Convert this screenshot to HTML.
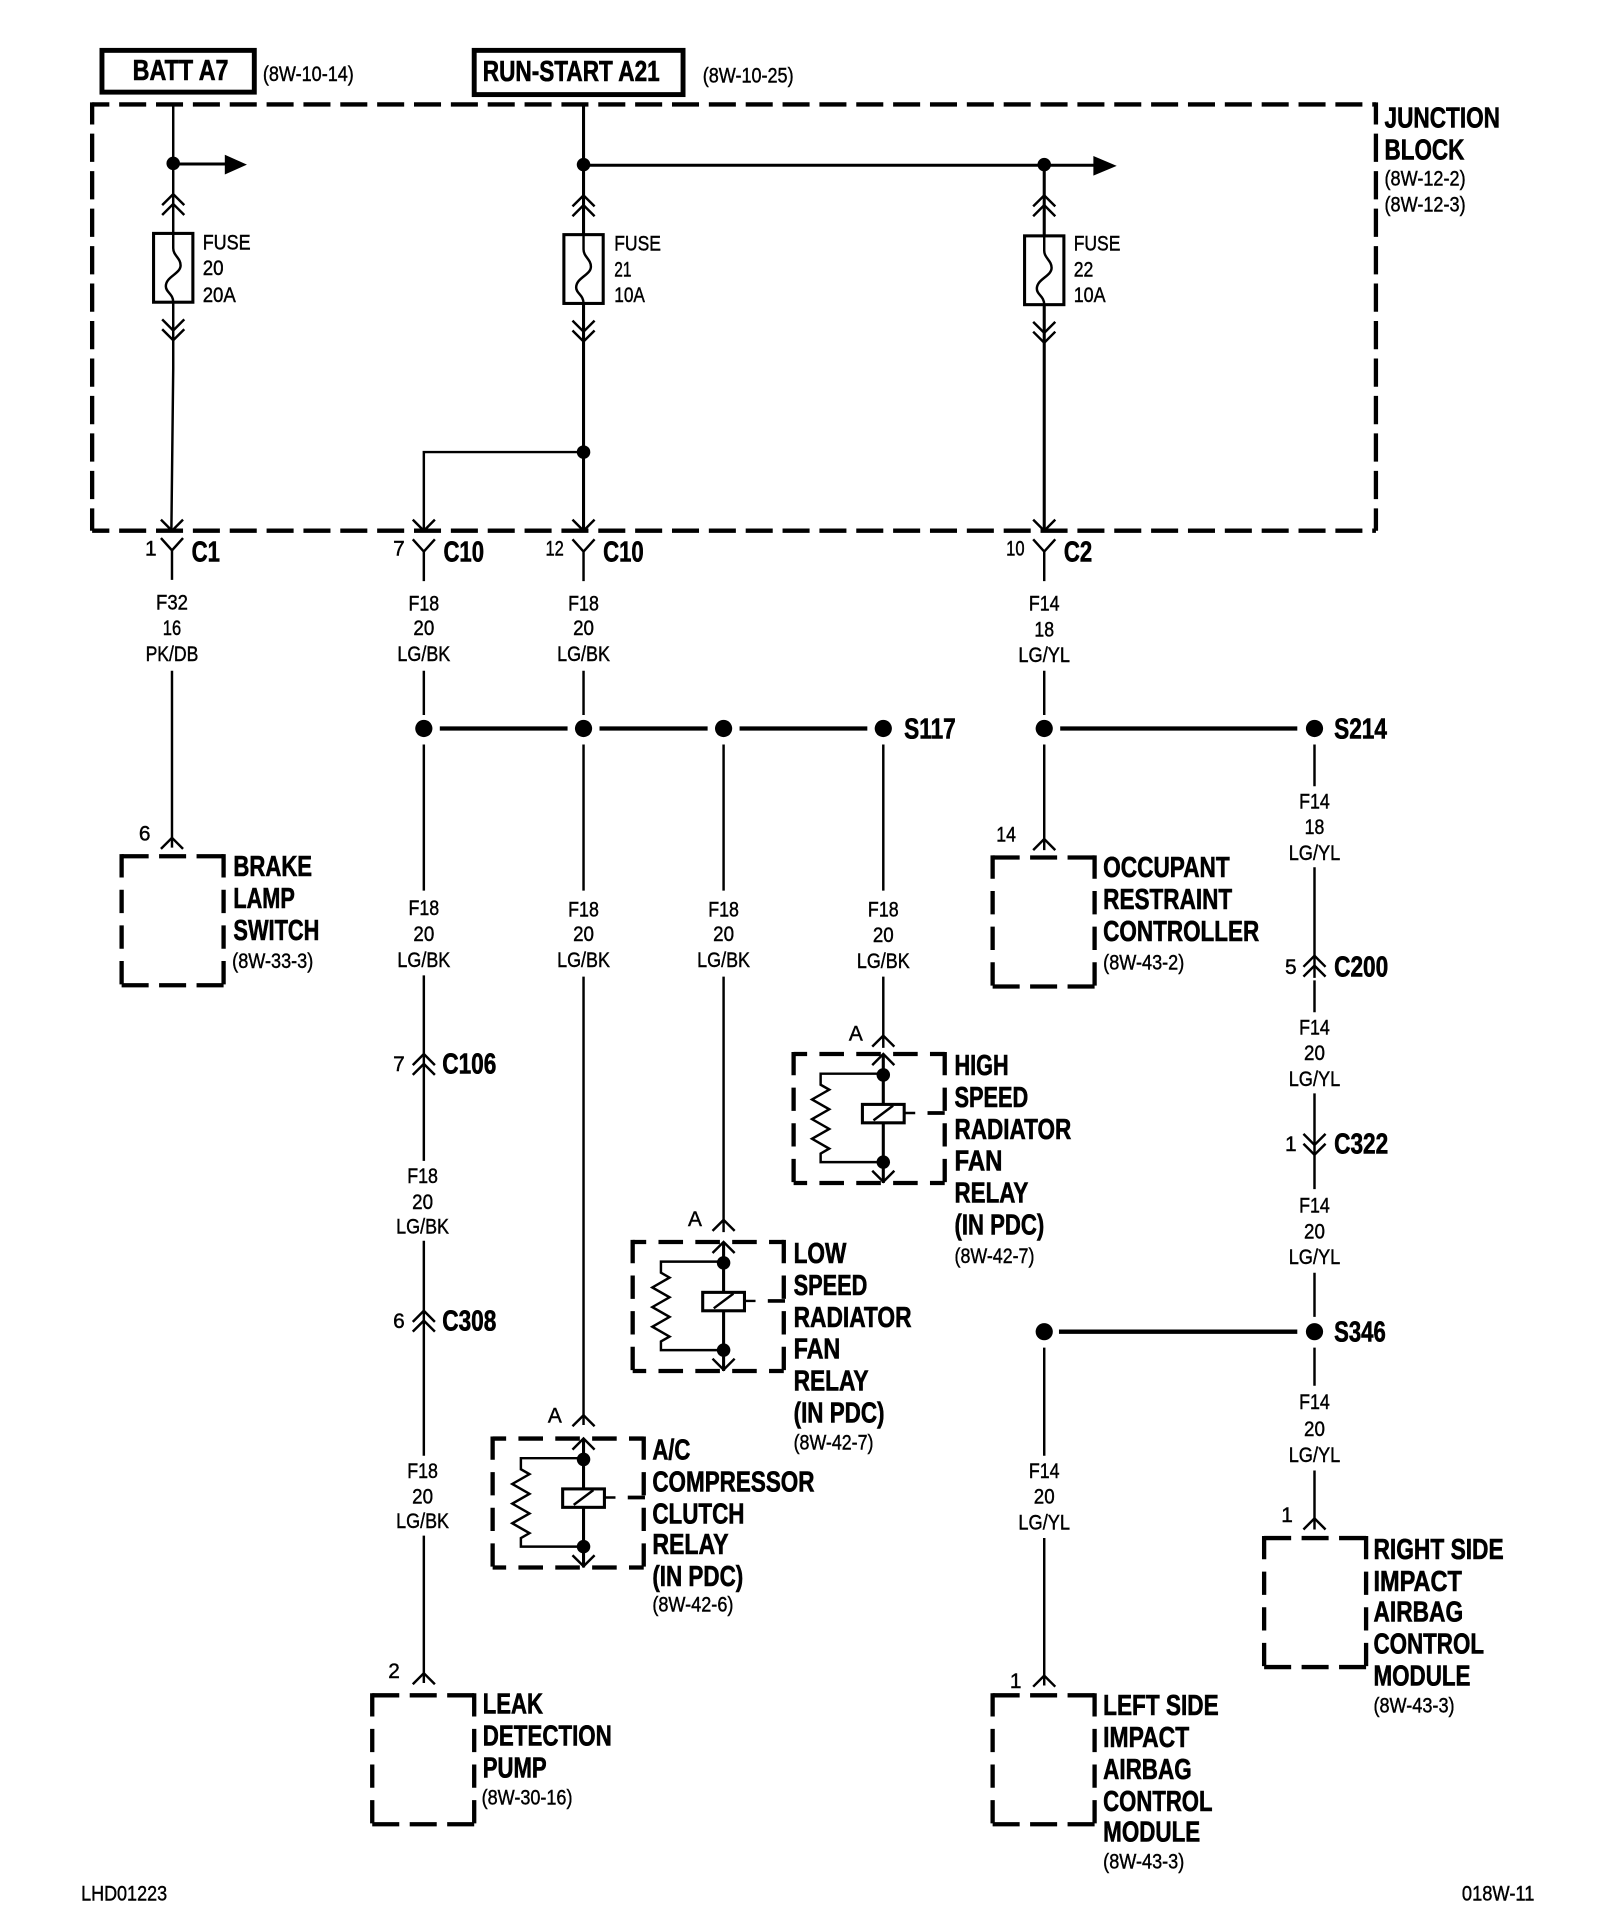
<!DOCTYPE html>
<html><head><meta charset="utf-8"><style>
html,body{margin:0;padding:0;background:#fff}
svg{display:block}
text{font-family:"Liberation Sans",sans-serif;fill:#000}
.b{font-size:23px;font-weight:bold;stroke:#000;stroke-width:.5px}
.s{font-size:17px;stroke:#000;stroke-width:.35px}
.m text{text-anchor:middle}
.w{fill:none;stroke:#000;stroke-width:2}
.t{fill:none;stroke:#000;stroke-width:3.5}
</style></head><body>
<svg width="1600" height="1926" viewBox="0 0 1302.4 1567.8" preserveAspectRatio="none" xmlns="http://www.w3.org/2000/svg">
<defs>
<path id="u" d="M-9 9L0 0L9 9" fill="none" stroke="#000" stroke-width="2"/>
<path id="n" d="M-9 -9L0 0L9 -9" fill="none" stroke="#000" stroke-width="2"/>
<circle id="o" r="7" fill="#000"/>
<circle id="p" r="5.5" fill="#000"/>
<path id="y" d="M-9 -10L0 0L9 -10M0 0V24" fill="none" stroke="#000" stroke-width="2"/>
<path id="f" d="M0 0V12C0 18 6 20 6 26C6 33 -6 35 -6 43C-6 48 0 49 0 56" fill="none" stroke="#000" stroke-width="2"/>
<g id="M" fill="none" stroke="#000" stroke-width="3.500">
<path stroke-dasharray="22 8.500" d="M0 0H83M0 105H83"/>
<path stroke-dasharray="19 10" d="M0 -1.700V105M83 -1.700V105"/>
</g>
<g id="R" fill="none" stroke="#000" stroke-width="3.500">
<path stroke-dasharray="20 10" stroke-dashoffset="9" d="M0 0H123M0 105H123"/>
<path stroke-dasharray="19 10" d="M0 -1.700V105M123 -1.700V105"/>
</g>
<g id="r">
<path d="M0 -17H-51V-8L-44 -4L-58 4L-44 12L-58 20L-44 28L-58 36L-44 44L-51 48V55H0" fill="none" stroke="#000" stroke-width="2"/>
<path d="M0 -32V72" fill="none" stroke="#000" stroke-width="2.500"/>
<rect x="-17" y="8" width="34" height="15" fill="#fff" stroke="#000" stroke-width="2.500"/>
<path d="M-8 21L8 9M17 15H26" fill="none" stroke="#000" stroke-width="2"/>
<path d="M36 15H50" fill="none" stroke="#000" stroke-width="3"/>
<use href="#p" y="-16"/><use href="#p" y="55"/>
<use href="#u" y="-33"/><use href="#n" y="71"/>
</g>
</defs>

<!-- header boxes -->
<rect x="83" y="41" width="124" height="34" fill="none" stroke="#000" stroke-width="4"/>
<rect x="386" y="41" width="170" height="36" fill="none" stroke="#000" stroke-width="4"/>
<!-- junction block -->
<g fill="none" stroke="#000" stroke-width="3.500">
<path stroke-dasharray="22 8" stroke-dashoffset="8" d="M75 85H1120M75 432H1120"/>
<path stroke-dasharray="23 7.500" stroke-dashoffset="5" d="M75 83.300V432M1120 83.300V432"/>
</g>

<!-- wires in junction -->
<path class="w" d="M141 85V300L139.500 432"/>
<path class="w" style="stroke-width:2.500" d="M475 85V432M850 134V432"/>
<path class="w" d="M475 368H345V432"/>
<path class="t" style="stroke-width:2.500" d="M141 133.500H185M475 134.500H893"/>
<path d="M183 126L201 134L183 142Z"/><path d="M890 127L909 135L890 143Z"/>
<use href="#p" x="141" y="133"/><use href="#p" x="475" y="134"/><use href="#p" x="850" y="134"/><use href="#p" x="475" y="368"/>
<!-- fuses -->
<g>
<rect x="125" y="190" width="32" height="56" fill="#fff" stroke="#000" stroke-width="2.500"/><use href="#f" x="141" y="190"/>
<rect x="459" y="191" width="32" height="56" fill="#fff" stroke="#000" stroke-width="2.500"/><use href="#f" x="475" y="191"/>
<rect x="834" y="192" width="32" height="56" fill="#fff" stroke="#000" stroke-width="2.500"/><use href="#f" x="850" y="192"/>
</g>
<use href="#u" x="141" y="158"/><use href="#u" x="141" y="166"/><use href="#n" x="141" y="269"/><use href="#n" x="141" y="277"/>
<use href="#u" x="475" y="159"/><use href="#u" x="475" y="167"/><use href="#n" x="475" y="270"/><use href="#n" x="475" y="278"/>
<use href="#u" x="850" y="159"/><use href="#u" x="850" y="167"/><use href="#n" x="850" y="271"/><use href="#n" x="850" y="279"/>
<use href="#n" x="140" y="432"/><use href="#n" x="345" y="432"/><use href="#n" x="475" y="432"/><use href="#n" x="850" y="432"/>
<!-- Y connectors -->
<use href="#y" x="140" y="448"/><use href="#y" x="345" y="449"/><use href="#y" x="475" y="449"/><use href="#y" x="850" y="449"/>

<!-- vertical wires -->
<path class="w" d="M140 546V690"/>
<path class="w" d="M345 546V582M345 606V725M345 794V875M345 858V945M345 1010V1085M345 1067V1185M345 1250V1370"/>
<path class="w" d="M475 546V582M475 606V725M475 795V1160"/>
<path class="w" d="M589 606V725M589 795V1003"/>
<path class="w" d="M719 606V725M719 795V853"/>
<path class="w" d="M850 546V582M850 606V692"/>
<path class="w" d="M1070 606V640M1070 706V796M1070 798V824M1070 890V942M1070 942V968M1070 1036V1072M1070 1097V1128M1070 1197V1245"/>
<path class="w" d="M850 1097V1185M850 1252V1372"/>
<!-- splice bars -->
<path class="t" d="M358 593H462M488 593H576M602 593H706M863 593H1056M862 1084H1056"/>
<use href="#o" x="345" y="593"/><use href="#o" x="475" y="593"/><use href="#o" x="589" y="593"/><use href="#o" x="719" y="593"/><use href="#o" x="850" y="593"/><use href="#o" x="1070" y="593"/><use href="#o" x="1070" y="1084"/><use href="#o" x="850" y="1084"/>

<!-- inline connectors -->
<use href="#u" x="345" y="858"/><use href="#u" x="345" y="866"/>
<use href="#u" x="345" y="1067"/><use href="#u" x="345" y="1075"/>
<use href="#u" x="1070" y="778"/><use href="#u" x="1070" y="786"/>
<use href="#n" x="1070" y="932"/><use href="#n" x="1070" y="940"/>

<!-- connector tops -->
<use href="#u" x="140" y="682"/><use href="#u" x="850" y="683"/><use href="#u" x="345" y="1362"/><use href="#u" x="850" y="1364"/><use href="#u" x="1070" y="1236"/>
<use href="#u" x="475" y="1152"/><use href="#u" x="589" y="993"/><use href="#u" x="719" y="843"/>

<!-- component boxes -->
<use href="#M" x="99" y="697"/>
<use href="#M" x="808" y="698"/>
<use href="#M" x="303" y="1380"/>
<use href="#M" x="808" y="1380"/>
<use href="#M" x="1029" y="1252"/>
<use href="#R" x="646" y="858"/>
<use href="#R" x="515" y="1011"/>
<use href="#R" x="401" y="1171"/>
<use href="#r" x="719" y="891"/>
<use href="#r" x="589" y="1044"/>
<use href="#r" x="475" y="1204"/>

<!-- bold labels -->
<g class="b">
<text x="108" y="65" textLength="78" lengthAdjust="spacingAndGlyphs">BATT A7</text>
<text x="393" y="66" textLength="144" lengthAdjust="spacingAndGlyphs">RUN-START A21</text>
<text x="1127" y="104" textLength="94" lengthAdjust="spacingAndGlyphs">JUNCTION</text>
<text x="1127" y="130" textLength="65" lengthAdjust="spacingAndGlyphs">BLOCK</text>
<text x="156" y="457" textLength="23" lengthAdjust="spacingAndGlyphs">C1</text>
<text x="361" y="457" textLength="33" lengthAdjust="spacingAndGlyphs">C10</text>
<text x="491" y="457" textLength="33" lengthAdjust="spacingAndGlyphs">C10</text>
<text x="866" y="457" textLength="23" lengthAdjust="spacingAndGlyphs">C2</text>
<text x="736" y="601" textLength="42" lengthAdjust="spacingAndGlyphs">S117</text>
<text x="1086" y="601" textLength="43" lengthAdjust="spacingAndGlyphs">S214</text>
<text x="1086" y="795" textLength="44" lengthAdjust="spacingAndGlyphs">C200</text>
<text x="1086" y="939" textLength="44" lengthAdjust="spacingAndGlyphs">C322</text>
<text x="1086" y="1092" textLength="42" lengthAdjust="spacingAndGlyphs">S346</text>
<text x="360" y="874" textLength="44" lengthAdjust="spacingAndGlyphs">C106</text>
<text x="360" y="1083" textLength="44" lengthAdjust="spacingAndGlyphs">C308</text>

<text x="190" y="713" textLength="64" lengthAdjust="spacingAndGlyphs">BRAKE</text>
<text x="190" y="739" textLength="50" lengthAdjust="spacingAndGlyphs">LAMP</text>
<text x="190" y="765" textLength="70" lengthAdjust="spacingAndGlyphs">SWITCH</text>

<text x="898" y="714" textLength="103" lengthAdjust="spacingAndGlyphs">OCCUPANT</text>
<text x="898" y="740" textLength="105" lengthAdjust="spacingAndGlyphs">RESTRAINT</text>
<text x="898" y="766" textLength="127" lengthAdjust="spacingAndGlyphs">CONTROLLER</text>

<text x="777" y="875" textLength="44" lengthAdjust="spacingAndGlyphs">HIGH</text>
<text x="777" y="901" textLength="60" lengthAdjust="spacingAndGlyphs">SPEED</text>
<text x="777" y="927" textLength="95" lengthAdjust="spacingAndGlyphs">RADIATOR</text>
<text x="777" y="953" textLength="39" lengthAdjust="spacingAndGlyphs">FAN</text>
<text x="777" y="979" textLength="60" lengthAdjust="spacingAndGlyphs">RELAY</text>
<text x="777" y="1005" textLength="73" lengthAdjust="spacingAndGlyphs">(IN PDC)</text>

<text x="646" y="1028" textLength="43" lengthAdjust="spacingAndGlyphs">LOW</text>
<text x="646" y="1054" textLength="60" lengthAdjust="spacingAndGlyphs">SPEED</text>
<text x="646" y="1080" textLength="96" lengthAdjust="spacingAndGlyphs">RADIATOR</text>
<text x="646" y="1106" textLength="38" lengthAdjust="spacingAndGlyphs">FAN</text>
<text x="646" y="1132" textLength="61" lengthAdjust="spacingAndGlyphs">RELAY</text>
<text x="646" y="1158" textLength="74" lengthAdjust="spacingAndGlyphs">(IN PDC)</text>

<text x="531" y="1188" textLength="31" lengthAdjust="spacingAndGlyphs">A/C</text>
<text x="531" y="1214" textLength="132" lengthAdjust="spacingAndGlyphs">COMPRESSOR</text>
<text x="531" y="1240" textLength="75" lengthAdjust="spacingAndGlyphs">CLUTCH</text>
<text x="531" y="1265" textLength="62" lengthAdjust="spacingAndGlyphs">RELAY</text>
<text x="531" y="1291" textLength="74" lengthAdjust="spacingAndGlyphs">(IN PDC)</text>

<text x="393" y="1395" textLength="49" lengthAdjust="spacingAndGlyphs">LEAK</text>
<text x="393" y="1421" textLength="105" lengthAdjust="spacingAndGlyphs">DETECTION</text>
<text x="393" y="1447" textLength="52" lengthAdjust="spacingAndGlyphs">PUMP</text>

<text x="898" y="1396" textLength="94" lengthAdjust="spacingAndGlyphs">LEFT SIDE</text>
<text x="898" y="1422" textLength="70" lengthAdjust="spacingAndGlyphs">IMPACT</text>
<text x="898" y="1448" textLength="72" lengthAdjust="spacingAndGlyphs">AIRBAG</text>
<text x="898" y="1474" textLength="89" lengthAdjust="spacingAndGlyphs">CONTROL</text>
<text x="898" y="1499" textLength="79" lengthAdjust="spacingAndGlyphs">MODULE</text>

<text x="1118" y="1269" textLength="106" lengthAdjust="spacingAndGlyphs">RIGHT SIDE</text>
<text x="1118" y="1295" textLength="72" lengthAdjust="spacingAndGlyphs">IMPACT</text>
<text x="1118" y="1320" textLength="73" lengthAdjust="spacingAndGlyphs">AIRBAG</text>
<text x="1118" y="1346" textLength="90" lengthAdjust="spacingAndGlyphs">CONTROL</text>
<text x="1118" y="1372" textLength="79" lengthAdjust="spacingAndGlyphs">MODULE</text>
</g>

<!-- small labels, left aligned -->
<g class="s">
<text x="214" y="66" textLength="74" lengthAdjust="spacingAndGlyphs">(8W-10-14)</text>
<text x="572" y="67" textLength="74" lengthAdjust="spacingAndGlyphs">(8W-10-25)</text>
<text x="1127" y="151" textLength="66" lengthAdjust="spacingAndGlyphs">(8W-12-2)</text>
<text x="1127" y="172" textLength="66" lengthAdjust="spacingAndGlyphs">(8W-12-3)</text>
<text x="165" y="203" textLength="39" lengthAdjust="spacingAndGlyphs">FUSE</text>
<text x="165" y="224" textLength="17" lengthAdjust="spacingAndGlyphs">20</text>
<text x="165" y="246" textLength="27" lengthAdjust="spacingAndGlyphs">20A</text>
<text x="500" y="204" textLength="38" lengthAdjust="spacingAndGlyphs">FUSE</text>
<text x="500" y="225" textLength="14" lengthAdjust="spacingAndGlyphs">21</text>
<text x="500" y="246" textLength="25" lengthAdjust="spacingAndGlyphs">10A</text>
<text x="874" y="204" textLength="38" lengthAdjust="spacingAndGlyphs">FUSE</text>
<text x="874" y="225" textLength="16" lengthAdjust="spacingAndGlyphs">22</text>
<text x="874" y="246" textLength="26" lengthAdjust="spacingAndGlyphs">10A</text>
<text x="118" y="452">1</text>
<text x="320" y="452">7</text>
<text x="444" y="452" textLength="15" lengthAdjust="spacingAndGlyphs">12</text>
<text x="819" y="452" textLength="15" lengthAdjust="spacingAndGlyphs">10</text>
<text x="113" y="684">6</text>
<text x="811" y="685" textLength="16" lengthAdjust="spacingAndGlyphs">14</text>
<text x="320" y="872">7</text>
<text x="320" y="1081">6</text>
<text x="316" y="1366">2</text>
<text x="1046" y="793">5</text>
<text x="1046" y="937">1</text>
<text x="1043" y="1239">1</text>
<text x="822" y="1374">1</text>
<text x="691" y="847">A</text>
<text x="560" y="998">A</text>
<text x="446" y="1158">A</text>
<text x="189" y="788" textLength="66" lengthAdjust="spacingAndGlyphs">(8W-33-3)</text>
<text x="898" y="789" textLength="66" lengthAdjust="spacingAndGlyphs">(8W-43-2)</text>
<text x="777" y="1028" textLength="65" lengthAdjust="spacingAndGlyphs">(8W-42-7)</text>
<text x="646" y="1180" textLength="65" lengthAdjust="spacingAndGlyphs">(8W-42-7)</text>
<text x="531" y="1312" textLength="66" lengthAdjust="spacingAndGlyphs">(8W-42-6)</text>
<text x="392" y="1469" textLength="74" lengthAdjust="spacingAndGlyphs">(8W-30-16)</text>
<text x="898" y="1521" textLength="66" lengthAdjust="spacingAndGlyphs">(8W-43-3)</text>
<text x="1118" y="1394" textLength="66" lengthAdjust="spacingAndGlyphs">(8W-43-3)</text>
<text x="66" y="1547" textLength="70" lengthAdjust="spacingAndGlyphs">LHD01223</text>
<text x="1190" y="1547" textLength="59" lengthAdjust="spacingAndGlyphs">018W-11</text>
</g>

<!-- wire callouts, centred -->
<g class="s m">
<text x="140" y="496" textLength="26" lengthAdjust="spacingAndGlyphs">F32</text><text x="140" y="517" textLength="15" lengthAdjust="spacingAndGlyphs">16</text><text x="140" y="538" textLength="43" lengthAdjust="spacingAndGlyphs">PK/DB</text>
<text x="345" y="497" textLength="25" lengthAdjust="spacingAndGlyphs">F18</text><text x="345" y="517" textLength="17" lengthAdjust="spacingAndGlyphs">20</text><text x="345" y="538" textLength="43" lengthAdjust="spacingAndGlyphs">LG/BK</text>
<text x="475" y="497" textLength="25" lengthAdjust="spacingAndGlyphs">F18</text><text x="475" y="517" textLength="17" lengthAdjust="spacingAndGlyphs">20</text><text x="475" y="538" textLength="43" lengthAdjust="spacingAndGlyphs">LG/BK</text>
<text x="850" y="497" textLength="25" lengthAdjust="spacingAndGlyphs">F14</text><text x="850" y="518" textLength="16" lengthAdjust="spacingAndGlyphs">18</text><text x="850" y="539" textLength="42" lengthAdjust="spacingAndGlyphs">LG/YL</text>
<text x="345" y="745" textLength="25" lengthAdjust="spacingAndGlyphs">F18</text><text x="345" y="766" textLength="17" lengthAdjust="spacingAndGlyphs">20</text><text x="345" y="787" textLength="43" lengthAdjust="spacingAndGlyphs">LG/BK</text>
<text x="475" y="746" textLength="25" lengthAdjust="spacingAndGlyphs">F18</text><text x="475" y="766" textLength="17" lengthAdjust="spacingAndGlyphs">20</text><text x="475" y="787" textLength="43" lengthAdjust="spacingAndGlyphs">LG/BK</text>
<text x="589" y="746" textLength="25" lengthAdjust="spacingAndGlyphs">F18</text><text x="589" y="766" textLength="17" lengthAdjust="spacingAndGlyphs">20</text><text x="589" y="787" textLength="43" lengthAdjust="spacingAndGlyphs">LG/BK</text>
<text x="719" y="746" textLength="25" lengthAdjust="spacingAndGlyphs">F18</text><text x="719" y="767" textLength="17" lengthAdjust="spacingAndGlyphs">20</text><text x="719" y="788" textLength="43" lengthAdjust="spacingAndGlyphs">LG/BK</text>
<text x="344" y="963" textLength="25" lengthAdjust="spacingAndGlyphs">F18</text><text x="344" y="984" textLength="17" lengthAdjust="spacingAndGlyphs">20</text><text x="344" y="1004" textLength="43" lengthAdjust="spacingAndGlyphs">LG/BK</text>
<text x="344" y="1203" textLength="25" lengthAdjust="spacingAndGlyphs">F18</text><text x="344" y="1224" textLength="17" lengthAdjust="spacingAndGlyphs">20</text><text x="344" y="1244" textLength="43" lengthAdjust="spacingAndGlyphs">LG/BK</text>
<text x="1070" y="658" textLength="25" lengthAdjust="spacingAndGlyphs">F14</text><text x="1070" y="679" textLength="16" lengthAdjust="spacingAndGlyphs">18</text><text x="1070" y="700" textLength="42" lengthAdjust="spacingAndGlyphs">LG/YL</text>
<text x="1070" y="842" textLength="25" lengthAdjust="spacingAndGlyphs">F14</text><text x="1070" y="863" textLength="17" lengthAdjust="spacingAndGlyphs">20</text><text x="1070" y="884" textLength="42" lengthAdjust="spacingAndGlyphs">LG/YL</text>
<text x="1070" y="987" textLength="25" lengthAdjust="spacingAndGlyphs">F14</text><text x="1070" y="1008" textLength="17" lengthAdjust="spacingAndGlyphs">20</text><text x="1070" y="1029" textLength="42" lengthAdjust="spacingAndGlyphs">LG/YL</text>
<text x="1070" y="1147" textLength="25" lengthAdjust="spacingAndGlyphs">F14</text><text x="1070" y="1169" textLength="17" lengthAdjust="spacingAndGlyphs">20</text><text x="1070" y="1190" textLength="42" lengthAdjust="spacingAndGlyphs">LG/YL</text>
<text x="850" y="1203" textLength="25" lengthAdjust="spacingAndGlyphs">F14</text><text x="850" y="1224" textLength="17" lengthAdjust="spacingAndGlyphs">20</text><text x="850" y="1245" textLength="42" lengthAdjust="spacingAndGlyphs">LG/YL</text>
</g>
</svg>
</body></html>
